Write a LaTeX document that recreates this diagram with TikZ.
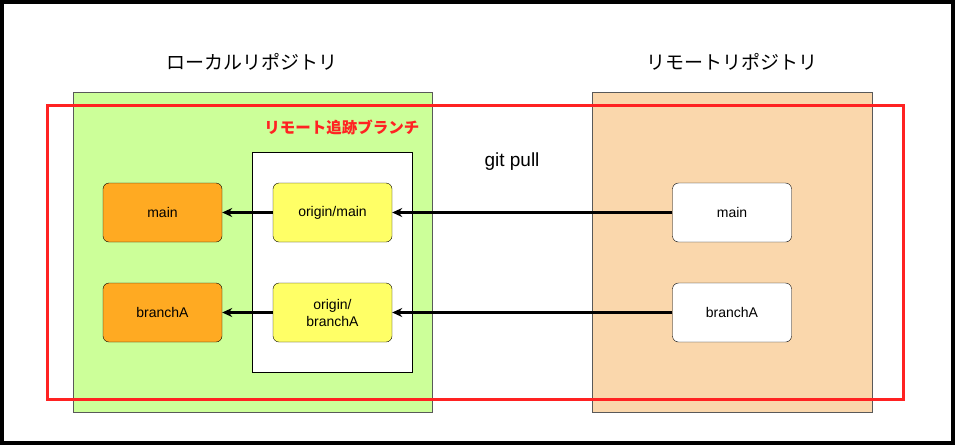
\documentclass[tikz,border=0pt]{standalone}
\usepackage{fontspec}
\setmainfont{Noto Sans CJK JP}
\newfontfamily\lat{Liberation Sans}
\usetikzlibrary{arrows.meta}
\definecolor{lgreen}{HTML}{CCFF99}
\definecolor{peach}{HTML}{FAD7AC}
\definecolor{orng}{HTML}{FFAA22}
\definecolor{yel}{HTML}{FFFF66}
\definecolor{rd}{HTML}{FF2222}
\tikzset{
 br/.style={draw=black, rounded corners=6pt, minimum width=119pt, minimum height=59pt, align=center, font=\lat\fontsize{14}{17}\selectfont, inner sep=0pt},
 arr/.style={line width=2.5pt, -{Stealth[length=10pt,width=9pt]}},
}
\begin{document}
\begin{tikzpicture}[x=1pt,y=-1pt]
\path[use as bounding box] (0,0) rectangle (955,445);
\draw[line width=4pt, fill=white] (2,2) rectangle (953,443);
\draw[draw=gray!70!black, fill=lgreen] (73,92) rectangle (432,412);
\draw[draw=gray!70!black, fill=peach] (592,92) rectangle (872,412);
\draw[draw=black, fill=white] (252,152) rectangle (412,372);
\node[font=\fontsize{19}{22}\selectfont] (tl) at (252,62) {ローカルリポジトリ};
\node[font=\fontsize{19}{22}\selectfont] (tr) at (732,62) {リモートリポジトリ};
\node[font=\lat\fontsize{19}{22}\selectfont] (gp) at (512,162) {git pull};
\node[br, fill=orng] (lm) at (162.5,212.5) {main};
\node[br, fill=orng] (lb) at (162.5,312.5) {branchA};
\node[br, fill=yel] (om) at (332.5,212.5) {origin/main};
\node[br, fill=yel] (ob) at (332.5,312.5) {origin/\\branchA};
\node[br, fill=white] (rm) at (732,212.5) {main};
\node[br, fill=white] (rb) at (732,312.5) {branchA};
\draw[arr] (rm) -- (om);
\draw[arr] (rb) -- (ob);
\draw[arr] (om) -- (lm);
\draw[arr] (ob) -- (lb);
\draw[rd, line width=3pt] (47,105) rectangle (903,399);
\node[anchor=east, text=rd, font=\bfseries\fontsize{15.5}{18}\selectfont] (rt) at (423,127) {リモート追跡ブランチ};
\end{tikzpicture}
\end{document}
